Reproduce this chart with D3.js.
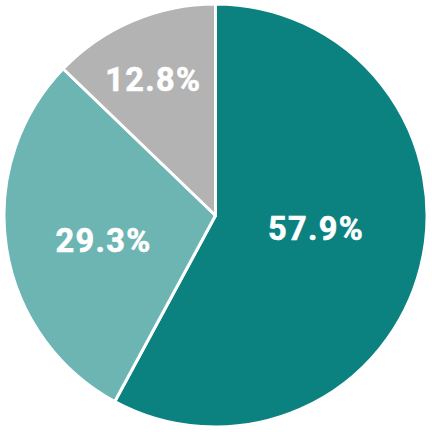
<!DOCTYPE html>
<html>
<head>
<meta charset="utf-8">
<script src="https://cdn.jsdelivr.net/npm/d3@7"></script>
<style>
  html, body { margin: 0; padding: 0; background: #fff; }
  svg { display: block; }
</style>
</head>
<body>
<div id="chart"></div>
<script>
// waarden uit de afbeelding
const categories = ["A", "B", "C"];
const shares = [57.9, 29.3, 12.8];
const labels = ["57.9%", "29.3%", "12.8%"];
const colors = ["#0b8280", "#6db5b3", "#b3b3b3"];

const width = 432;
const height = 432;
const radius = 211.5;

const svg = d3.select("#chart")
  .append("svg")
  .attr("width", width)
  .attr("height", height)
  .append("g")
  .attr("transform", `translate(${215.5},${215.5})`);

const data = categories.map((c, i) => ({ label: labels[i], value: shares[i], color: colors[i] }));
const total = d3.sum(shares);

const pie = d3.pie()
  .sort(null)
  .value(d => d.value);

const arc = d3.arc()
  .outerRadius(radius)
  .innerRadius(0);

const arcs = svg.selectAll(".arc")
  .data(pie(data))
  .enter()
  .append("g")
  .attr("class", "arc");

arcs.append("path")
  .attr("d", arc)
  .attr("fill", d => d.data.color)
  .attr("stroke", "#fff")
  .attr("stroke-width", 3)
  .attr("stroke-linejoin", "round");

// labels: kleine taartpunten krijgen hun label verder naar buiten
arcs.append("text")
  .attr("transform", d => {
    const share = d.data.value / total;
    const r = radius * (0.4147 + 0.0373 / share);
    const a = d.startAngle + (d.endAngle - d.startAngle) * 0.466;
    return `translate(${r * Math.sin(a)},${-r * Math.cos(a)})`;
  })
  .attr("text-anchor", "middle")
  .attr("dy", "0.36em")
  .attr("fill", "#fff")
  .attr("stroke", "#fff")
  .attr("stroke-width", 0.6)
  .style("font-family", "Roboto, sans-serif")
  .style("font-weight", "bold")
  .style("font-size", "32.5px")
  .style("letter-spacing", "1.3px")
  .text(d => d.data.label);
</script>
</body>
</html>
